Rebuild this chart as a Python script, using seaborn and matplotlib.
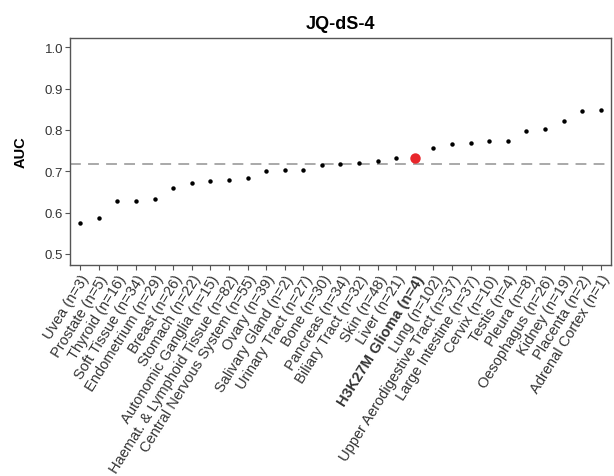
import matplotlib
matplotlib.use("Agg")
import matplotlib.pyplot as plt
import seaborn as sns
import pandas as pd

# Tissue groups, ordered by AUC
tissues = [
    "Uvea (n=3)", "Prostate (n=5)", "Thyroid (n=16)", "Soft Tissue (n=34)",
    "Endometrium (n=29)", "Breast (n=26)", "Stomach (n=22)",
    "Autonomic Ganglia (n=15)", "Haemat. & Lymphoid Tissue (n=82)",
    "Central Nervous System (n=55)", "Ovary (n=39)", "Salivary Gland (n=2)",
    "Urinary Tract (n=27)", "Bone (n=30)", "Pancreas (n=34)",
    "Biliary Tract (n=32)", "Skin (n=48)", "Liver (n=21)",
    "H3K27M Glioma (n=4)", "Lung (n=102)",
    "Upper Aerodigestive Tract (n=37)", "Large Intestine (n=37)",
    "Cervix (n=10)", "Testis (n=4)", "Pleura (n=8)", "Oesophagus (n=26)",
    "Kidney (n=19)", "Placenta (n=2)", "Adrenal Cortex (n=1)",
]
auc = [
    0.575, 0.586, 0.628, 0.628, 0.632, 0.659, 0.672, 0.677, 0.679, 0.683,
    0.700, 0.702, 0.702, 0.716, 0.717, 0.719, 0.726, 0.731, 0.733, 0.756,
    0.765, 0.768, 0.773, 0.773, 0.798, 0.801, 0.822, 0.845, 0.848,
]
highlight = "H3K27M Glioma (n=4)"
reference_auc = 0.7185
yticks = [0.5, 0.6, 0.7, 0.8, 0.9, 1.0]

df = pd.DataFrame({"tissue": tissues, "auc": auc})
others = df[df["tissue"] != highlight]
focus = df[df["tissue"] == highlight]

sns.set_theme(style="white")
plt.rcParams["font.family"] = ["Liberation Sans", "DejaVu Sans"]

fig = plt.figure(figsize=(6.14, 4.77), dpi=100)
ax = fig.add_axes([0.114, 0.442, 0.881, 0.477])

ax.axhline(reference_auc, color="#a3a3a3", lw=1.3, ls=(0, (6, 4)), zorder=1)

sns.stripplot(data=others, x="tissue", y="auc", order=tissues, jitter=False,
              color="black", size=3.2, linewidth=0, ax=ax, zorder=3)
sns.stripplot(data=focus, x="tissue", y="auc", order=tissues, jitter=False,
              color="#e8262b", size=7.5, linewidth=0, ax=ax, zorder=4)

ax.set_xlim(-0.55, len(tissues) - 0.45)
ax.set_ylim(0.473, 1.023)
ax.set_yticks(yticks)
ax.set_yticklabels([f"{v:.1f}" for v in yticks])

ax.set_xticks(range(len(tissues)))
ax.set_xticklabels(tissues, rotation=58, ha="right", rotation_mode="anchor")
for lbl in ax.get_xticklabels():
    lbl.set_fontsize(10.5)
    if lbl.get_text() == highlight:
        lbl.set_fontweight("bold")
        lbl.set_color("#111111")

ax.tick_params(axis="both", which="both", direction="out", length=3.5, width=0.8,
               color="#555555", labelcolor="#333333", pad=1.5,
               bottom=True, left=True)
ax.tick_params(axis="y", labelsize=9.5)

for side in ["left", "right", "top", "bottom"]:
    ax.spines[side].set_visible(True)
    ax.spines[side].set_color("#555555")
    ax.spines[side].set_linewidth(1.0)

ax.set_xlabel("")
ax.set_ylabel("AUC", fontsize=10.5, fontweight="bold", color="black", labelpad=12)
ax.set_title("JQ-dS-4", fontsize=13, fontweight="bold", color="black", pad=7)
ax.grid(False)

fig.savefig("out.png", dpi=100)
